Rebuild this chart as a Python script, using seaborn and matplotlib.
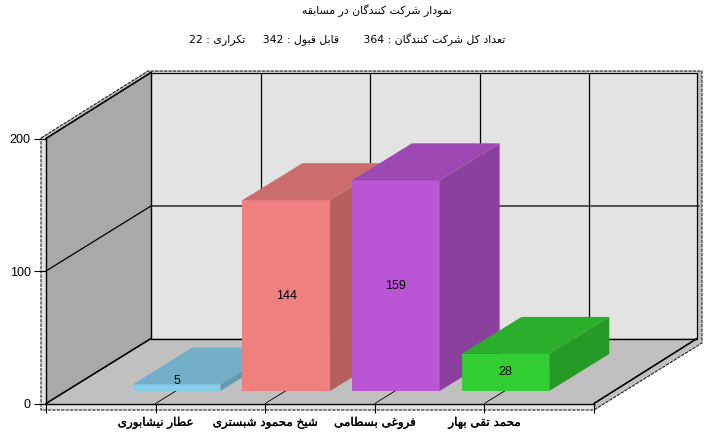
import matplotlib
matplotlib.use("Agg")
import matplotlib.pyplot as plt
import matplotlib.colors as mcolors
import matplotlib.patheffects as pe
import pandas as pd
import seaborn as sns

names = ["عطار نیشابوری", "شیخ محمود شبستری", "فروغی بسطامی", "محمد تقی بهار"]
values = [5, 144, 159, 28]
colors = ["#87CEEB", "#F08080", "#BA55D3", "#32CD32"]
y_ticks = [0, 100, 200]

title = "نمودار شرکت کنندگان در مسابقه"
total_label = "تعداد کل شرکت کنندگان"
accepted_label = "قابل قبول"
repeat_label = "تکراری"
total, accepted, repeated = 364, 342, 22

# matplotlib does not shape arabic text, so pick the letter forms by hand
forms = {
    "ا": "\uFE8D\uFE8E", "د": "\uFEA9\uFEAA", "ر": "\uFEAD\uFEAE", "و": "\uFEED\uFEEE",
    "ب": "\uFE8F\uFE90\uFE91\uFE92", "ت": "\uFE95\uFE96\uFE97\uFE98",
    "ح": "\uFEA1\uFEA2\uFEA3\uFEA4", "خ": "\uFEA5\uFEA6\uFEA7\uFEA8",
    "س": "\uFEB1\uFEB2\uFEB3\uFEB4", "ش": "\uFEB5\uFEB6\uFEB7\uFEB8",
    "ط": "\uFEC1\uFEC2\uFEC3\uFEC4", "ع": "\uFEC9\uFECA\uFECB\uFECC",
    "غ": "\uFECD\uFECE\uFECF\uFED0", "ف": "\uFED1\uFED2\uFED3\uFED4",
    "ق": "\uFED5\uFED6\uFED7\uFED8", "ل": "\uFEDD\uFEDE\uFEDF\uFEE0",
    "م": "\uFEE1\uFEE2\uFEE3\uFEE4", "ن": "\uFEE5\uFEE6\uFEE7\uFEE8",
    "ه": "\uFEE9\uFEEA\uFEEB\uFEEC", "ک": "\uFB8E\uFB8F\uFB90\uFB91",
    "گ": "\uFB92\uFB93\uFB94\uFB95", "ی": "\uFBFC\uFBFD\uFBFE\uFBFF",
}


def fa(text):
    out = []
    for word in text.split(" "):
        shaped = ""
        for i, ch in enumerate(word):
            f = forms[ch]
            prev_joins = i > 0 and len(forms[word[i - 1]]) == 4
            next_joins = i < len(word) - 1 and len(f) == 4
            if prev_joins and next_joins:
                shaped += f[3]
            elif next_joins:
                shaped += f[2]
            elif prev_joins:
                shaped += f[1]
            else:
                shaped += f[0]
        out.append(shaped)
    return " ".join(out)[::-1]


sns.set_style("white")
plt.rcParams["font.family"] = ["DejaVu Sans"]

W, H = 717, 438
fig = plt.figure(figsize=(W / 100, H / 100), dpi=100)

# box behind the chart, in picture pixels
bg = fig.add_axes([0, 0, 1, 1], zorder=0)
bg.set_xlim(0, W)
bg.set_ylim(H, 0)
bg.axis("off")
dash = (0, (3, 1))
bg.fill([41, 148, 702, 702, 594, 41], [138, 71, 71, 343, 410, 410], color="#C0C0C0", lw=0)
bg.fill([41, 46, 46, 41], [138, 138, 410, 410], color="#E3E3E3", lw=0)
bg.fill([41, 594, 594, 41], [404, 404, 410, 410], color="#E3E3E3", lw=0)
bg.fill([151, 697, 697, 151], [72, 72, 338, 338], color="#E3E3E3", lw=0)
bg.fill([46, 151, 151, 46], [138, 72, 338, 403.5], color="#A9A9A9", lw=0)
bg.plot([41, 148, 702, 702, 594, 41, 41], [138, 71, 71, 343, 410, 410, 138], color="#222222", lw=0.8, ls=dash)
bg.plot([594, 594], [404, 410], color="#222222", lw=0.8)
bg.plot([151, 697, 697], [72.5, 72.5, 338], color="black", lw=0.9)
bg.plot([151, 151], [72, 338.5], color="black", lw=1.0)
bg.plot([151, 697], [338.5, 338.5], color="black", lw=1.0)
bg.plot([46, 151], [403.5, 338.5], color="black", lw=1.2)
bg.plot([594, 697], [403.5, 338.5], color="black", lw=1.2)
bg.plot([46, 151], [138.5, 72.5], color="black", lw=1.2)

# front plane of the chart, bars are placed from here with a depth shift
ax = fig.add_axes([46 / W, (H - 403.5) / H, 548 / W, 265 / H], zorder=1)
ax.patch.set_alpha(0)
df = pd.DataFrame({"name": names, "value": values})
sns.barplot(data=df, x="name", y="value", hue="name", palette=colors, dodge=False,
            width=0.8, saturation=1, legend=False, ax=ax)
ax.set_xlim(-1, 4)
ax.set_ylim(0, 200)
ax.set_xlabel("")
ax.set_ylabel("")
sns.despine(ax=ax, left=False, bottom=False, top=True, right=True)
for side in ["left", "bottom"]:
    ax.spines[side].set_linewidth(1.0)
    ax.spines[side].set_color("black")

ax.set_xticks(range(-1, 5))
ax.set_xticklabels([""] + [fa(n) for n in names] + [""], fontsize=8.6, color="black",
                   path_effects=[pe.withStroke(linewidth=0.15, foreground="black")])
ax.set_yticks(y_ticks)
ax.set_yticklabels([str(t) for t in y_ticks], fontname="Liberation Sans", fontsize=9, color="black")
ax.tick_params(axis="x", length=6.5, width=0.8, color="black", pad=2.5, bottom=True)
ax.tick_params(axis="y", length=8.5, width=0.8, color="black", pad=2.5, left=True)

px_x = 548 / 5
px_y = 265 / 200
wall_dx, wall_dy = 105 / px_x, 65 / px_y
gap_dx, gap_dy = 21 / px_x, 12.5 / px_y
bar_dx, bar_dy = 60 / px_x, 37 / px_y

# lines on floor, back wall and left wall
for t in range(0, 4):
    ax.plot([t + wall_dx, t + wall_dx], [wall_dy, 200 + wall_dy], color="black", lw=0.9,
            zorder=0.5, clip_on=False)
    ax.plot([t, t + wall_dx], [0, wall_dy], color="black", lw=0.6, zorder=0.5, clip_on=False)
for t in y_ticks[1:-1]:
    ax.plot([-1, -1 + wall_dx, 4 + wall_dx], [t, t + wall_dy, t + wall_dy], color="black", lw=0.9,
            zorder=0.5, clip_on=False)

for i, (bar, value, color) in enumerate(zip(list(ax.patches), values, colors)):
    x0 = bar.get_x() + gap_dx
    x1 = x0 + bar.get_width()
    base = gap_dy
    top = base + value
    bar.set_x(x0)
    bar.set_y(base)
    bar.set_linewidth(0)
    bar.set_zorder(3 + i)
    bar.set_clip_on(False)
    rgb = mcolors.to_rgb(color)
    ax.fill([x0, x1, x1 + bar_dx, x0 + bar_dx], [top, top, top + bar_dy, top + bar_dy],
            color=[c * 0.85 for c in rgb], lw=0, zorder=3 + i, clip_on=False)
    ax.fill([x1, x1 + bar_dx, x1 + bar_dx, x1], [base, base + bar_dy, top + bar_dy, top],
            color=[c * 0.75 for c in rgb], lw=0, zorder=3 + i, clip_on=False)
    label_y = top + 2.6 if value < 10 else base + value / 2
    ax.text((x0 + x1) / 2, label_y, str(value), ha="center", va="center", color="black",
            fontname="Liberation Sans", fontsize=9, zorder=10, clip_on=False)

fig.text(377 / W, 1 - 11 / H, fa(title), ha="center", va="center", fontsize=7.8, color="black", zorder=5)
head = f"{repeated} : {fa(repeat_label)}     {accepted} : {fa(accepted_label)}       {total} : {fa(total_label)}"
fig.text(347.5 / W, 1 - 40 / H, head, ha="center", va="center", fontsize=7.8, color="black", zorder=5)

fig.savefig("out.png", dpi=100)
